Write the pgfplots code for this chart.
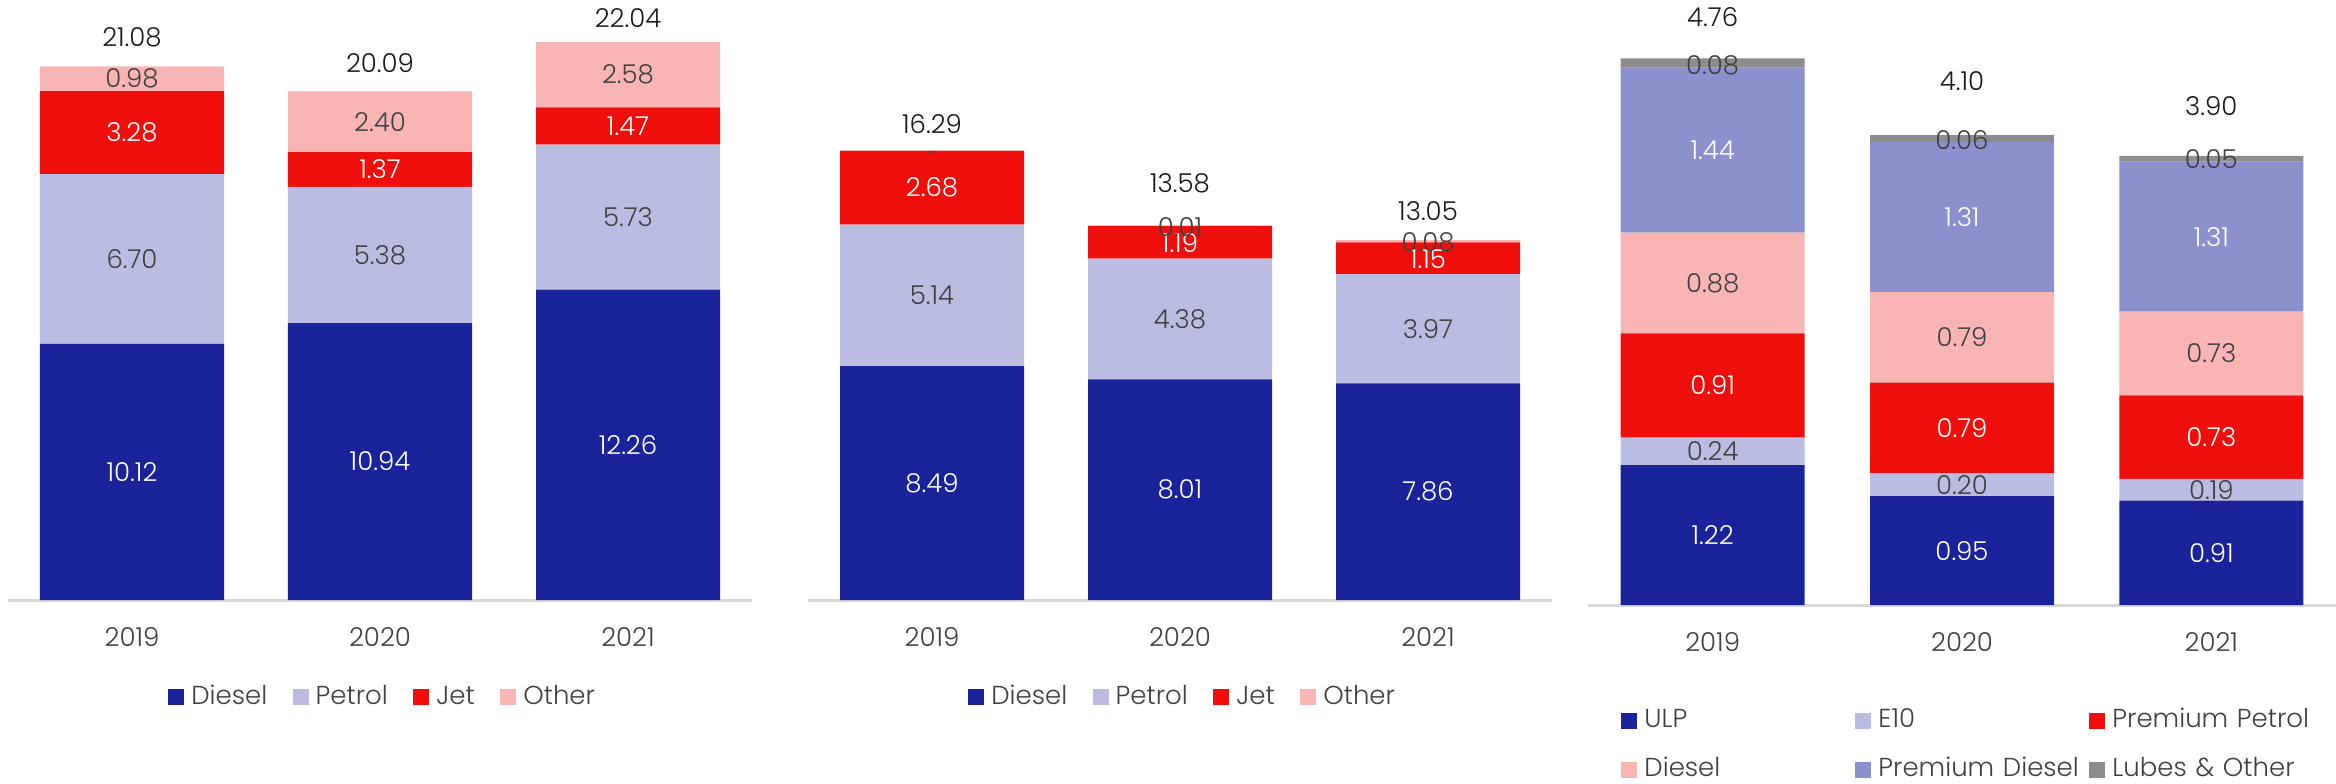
\documentclass[border=0pt]{standalone}
\usepackage{pgfplots}
\pgfplotsset{compat=1.18}
\usepackage{fontspec}
\setmainfont{Poppins}[UprightFont=* Light]
\definecolor{cDiesel}{HTML}{1A239A}
\definecolor{cPetrol}{HTML}{BABDE1}
\definecolor{cJet}{HTML}{EE0E0B}
\definecolor{cOther}{HTML}{F9B5B4}
\definecolor{cPD}{HTML}{8B91CD}
\definecolor{cLube}{HTML}{8C8C8C}
\definecolor{tgray}{HTML}{404040}
\definecolor{tblack}{HTML}{1A1A1A}
\definecolor{gline}{HTML}{D9D9D9}
\tikzset{
  wl/.style={text=white},
  gl/.style={text=tgray},
  tl/.style={text=tblack},
}
\pgfplotsset{
  panel/.style={
    scale only axis, clip=false,
    ybar stacked, bar width=92pt,
    xmin=-0.5, xmax=2.5, ymin=0,
    axis x line*=bottom, axis y line=none,
    x axis line style={-, draw=gline, line width=1.5pt},
    xtick={0,1,2}, xticklabels={2019,2020,2021},
    major tick length=0pt, xtick style={draw=none},
    xticklabel style={anchor=center, yshift=-18.75pt, text=tgray},
    legend image code/.code={\fill[##1] (0pt,-4pt) rectangle (8pt,4pt);},
    legend cell align=left,
  },
}
\begin{document}
\begin{tikzpicture}[font=\fontsize{13}{15}\selectfont]
\path[use as bounding box] (0,0) rectangle (1168pt,391.5pt);
% Panel 1
\begin{axis}[panel, at={(4pt,91.5pt)}, anchor=south west, width=372pt, height=300pt, ymax=23.70,
  legend columns=4,
  legend style={at={(0.507,-0.162)}, anchor=center, draw=none, fill=none, text=tgray,
    nodes={inner xsep=3.5pt, text height=9.5pt, text depth=2.5pt},
    /tikz/every even column/.append style={column sep=9.25pt}},
  after end axis/.code={
    \node[wl] at (axis cs:0,5.06) {10.12};
    \node[gl] at (axis cs:0,13.47) {6.70};
    \node[wl] at (axis cs:0,18.46) {3.28};
    \node[gl] at (axis cs:0,20.59) {0.98};
    \node[tl] at (axis cs:0,22.22) {21.08};
    \node[wl] at (axis cs:1,5.47) {10.94};
    \node[gl] at (axis cs:1,13.63) {5.38};
    \node[wl] at (axis cs:1,17.005) {1.37};
    \node[gl] at (axis cs:1,18.89) {2.40};
    \node[tl] at (axis cs:1,21.19) {20.09};
    \node[wl] at (axis cs:2,6.13) {12.26};
    \node[gl] at (axis cs:2,15.125) {5.73};
    \node[wl] at (axis cs:2,18.725) {1.47};
    \node[gl] at (axis cs:2,20.75) {2.58};
    \node[tl] at (axis cs:2,22.97) {22.04};
  }]
\addplot[fill=cDiesel, draw=none] coordinates {(0,10.12) (1,10.94) (2,12.26)};
\addplot[fill=cPetrol, draw=none] coordinates {(0,6.70) (1,5.38) (2,5.73)};
\addplot[fill=cJet, draw=none] coordinates {(0,3.28) (1,1.37) (2,1.47)};
\addplot[fill=cOther, draw=none] coordinates {(0,0.98) (1,2.40) (2,2.58)};
\legend{Diesel,Petrol,Jet,Other}
\end{axis}
% Panel 2
\begin{axis}[panel, at={(404pt,91.5pt)}, anchor=south west, width=372pt, height=300pt, ymax=21.78,
  legend columns=4,
  legend style={at={(0.507,-0.162)}, anchor=center, draw=none, fill=none, text=tgray,
    nodes={inner xsep=3.5pt, text height=9.5pt, text depth=2.5pt},
    /tikz/every even column/.append style={column sep=9.25pt}},
  after end axis/.code={
    \node[wl] at (axis cs:0,4.245) {8.49};
    \node[gl] at (axis cs:0,11.06) {5.14};
    \node[wl] at (axis cs:0,14.97) {2.68};
    \node[gl, font=\fontsize{8}{9}\selectfont] at (axis cs:0,16.15) {-};
    \node[tl] at (axis cs:0,17.26) {16.29};
    \node[wl] at (axis cs:1,4.005) {8.01};
    \node[gl] at (axis cs:1,10.2) {4.38};
    \node[wl] at (axis cs:1,12.95) {1.19};
    \node[gl] at (axis cs:1,13.55) {0.01};
    \node[tl] at (axis cs:1,15.13) {13.58};
    \node[wl] at (axis cs:2,3.93) {7.86};
    \node[gl] at (axis cs:2,9.845) {3.97};
    \node[wl] at (axis cs:2,12.36) {1.15};
    \node[gl] at (axis cs:2,12.99) {0.08};
    \node[tl] at (axis cs:2,14.11) {13.05};
  }]
\addplot[fill=cDiesel, draw=none] coordinates {(0,8.49) (1,8.01) (2,7.86)};
\addplot[fill=cPetrol, draw=none] coordinates {(0,5.14) (1,4.38) (2,3.97)};
\addplot[fill=cJet, draw=none] coordinates {(0,2.68) (1,1.19) (2,1.15)};
\addplot[fill=cOther, draw=none] coordinates {(0,0.00) (1,0.01) (2,0.08)};
\legend{Diesel,Petrol,Jet,Other}
\end{axis}
% Panel 3
\begin{axis}[panel, at={(794pt,89pt)}, anchor=south west, width=374pt, height=302.5pt, ymax=5.28,
  legend columns=3,
  legend style={at={(0.514,-0.232)}, anchor=center, draw=none, fill=none, text=tgray,
    nodes={inner xsep=3.5pt, text width=102pt, align=left, text height=9.5pt, text depth=2.5pt},
    row sep=8.5pt},
  after end axis/.code={
    \node[wl] at (axis cs:0,0.61) {1.22};
    \node[gl] at (axis cs:0,1.34) {0.24};
    \node[wl] at (axis cs:0,1.915) {0.91};
    \node[gl] at (axis cs:0,2.81) {0.88};
    \node[wl] at (axis cs:0,3.97) {1.44};
    \node[gl] at (axis cs:0,4.71) {0.08};
    \node[tl] at (axis cs:0,5.135) {4.76};
    \node[wl] at (axis cs:1,0.475) {0.95};
    \node[gl] at (axis cs:1,1.05) {0.20};
    \node[wl] at (axis cs:1,1.545) {0.79};
    \node[gl] at (axis cs:1,2.335) {0.79};
    \node[wl] at (axis cs:1,3.385) {1.31};
    \node[gl] at (axis cs:1,4.06) {0.06};
    \node[tl] at (axis cs:1,4.57) {4.10};
    \node[wl] at (axis cs:2,0.455) {0.91};
    \node[gl] at (axis cs:2,1.005) {0.19};
    \node[wl] at (axis cs:2,1.465) {0.73};
    \node[gl] at (axis cs:2,2.195) {0.73};
    \node[wl] at (axis cs:2,3.215) {1.31};
    \node[gl] at (axis cs:2,3.89) {0.05};
    \node[tl] at (axis cs:2,4.35) {3.90};
  }]
\addplot[fill=cDiesel, draw=none] coordinates {(0,1.22) (1,0.95) (2,0.91)};
\addplot[fill=cPetrol, draw=none] coordinates {(0,0.24) (1,0.20) (2,0.19)};
\addplot[fill=cJet, draw=none] coordinates {(0,0.91) (1,0.79) (2,0.73)};
\addplot[fill=cOther, draw=none] coordinates {(0,0.88) (1,0.79) (2,0.73)};
\addplot[fill=cPD, draw=none] coordinates {(0,1.44) (1,1.31) (2,1.31)};
\addplot[fill=cLube, draw=none] coordinates {(0,0.08) (1,0.06) (2,0.05)};
\legend{ULP,E10,Premium Petrol,Diesel,Premium Diesel,Lubes \& Other}
\end{axis}
\end{tikzpicture}
\end{document}
